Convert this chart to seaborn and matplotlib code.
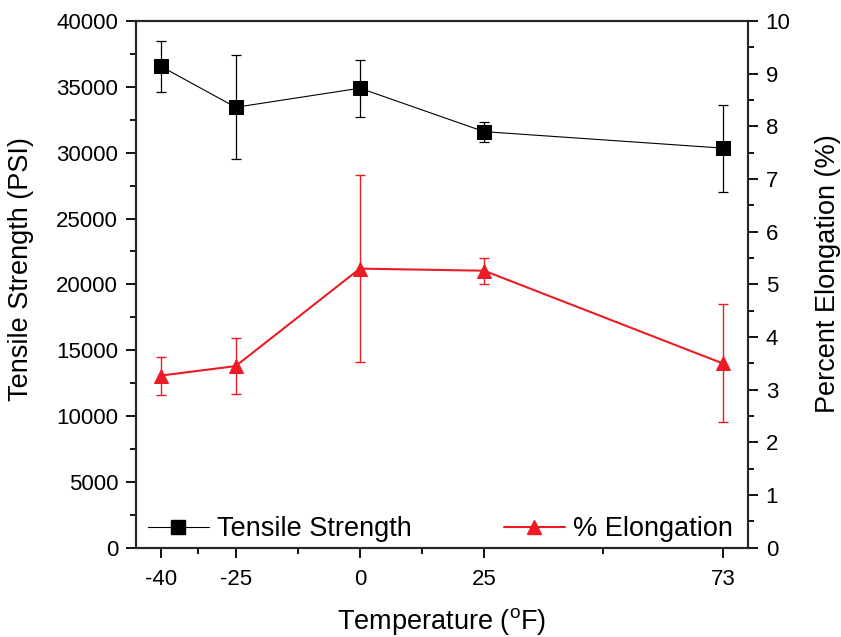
import matplotlib
matplotlib.use("Agg")
import matplotlib.pyplot as plt
import seaborn as sns
import pandas as pd
from matplotlib.ticker import MultipleLocator, FixedLocator
from matplotlib.lines import Line2D

# data
temps = [-40, -25, 0, 25, 73]
tensile = [36550, 33450, 34900, 31600, 30350]
tensile_err = [1950, 3950, 2150, 750, 3300]
elong = [3.27, 3.45, 5.30, 5.26, 3.50]
elong_err = [0.36, 0.53, 1.77, 0.25, 1.12]
x_minor = [-32.5, -12.5, 12.5, 49]

red = "#ED1C24"

sns.set_style("ticks")
plt.rcParams["font.family"] = ["Liberation Sans", "DejaVu Sans"]
plt.rcParams["axes.linewidth"] = 1.5
plt.rcParams["text.color"] = "black"
plt.rcParams["axes.labelcolor"] = "black"
plt.rcParams["xtick.color"] = "black"
plt.rcParams["ytick.color"] = "black"

df = pd.DataFrame({"Temp": temps, "Tensile": tensile, "Elong": elong})

fig, ax = plt.subplots(figsize=(8.41, 6.37), dpi=100)
fig.subplots_adjust(left=0.162, right=0.889, top=0.967, bottom=0.14)
ax2 = ax.twinx()

#Tensile strength on left axis
ax.errorbar(temps, tensile, yerr=tensile_err, fmt="none", ecolor="black", elinewidth=0.9, capsize=3.7, capthick=0.9, zorder=2)
sns.lineplot(data=df, x="Temp", y="Tensile", ax=ax, color="black", linewidth=0.8, marker="s", markersize=9.5, markeredgecolor="black", zorder=3)

#Elongation on right axis
ax2.errorbar(temps, elong, yerr=elong_err, fmt="none", ecolor=red, elinewidth=1.0, capsize=3.9, capthick=1.0, zorder=2)
sns.lineplot(data=df, x="Temp", y="Elong", ax=ax2, color=red, linewidth=1.5, marker="^", markersize=10, markeredgecolor=red, zorder=3)

ax.set_xlim(-45, 78)
ax.set_ylim(0, 40000)
ax2.set_ylim(0, 10)

ax.xaxis.set_major_locator(FixedLocator(temps))
ax.xaxis.set_minor_locator(FixedLocator(x_minor))
ax.set_xticklabels([str(t) for t in temps])
ax.yaxis.set_major_locator(MultipleLocator(5000))
ax.yaxis.set_minor_locator(MultipleLocator(2500))
ax2.yaxis.set_major_locator(MultipleLocator(1))
ax2.yaxis.set_minor_locator(MultipleLocator(0.5))

for a in (ax, ax2):
    a.tick_params(which="major", direction="out", length=7, width=1.3, labelsize=16, pad=6)
    a.tick_params(which="minor", direction="out", length=4, width=1.3)
    for s in a.spines.values():
        s.set_visible(True)
        s.set_linewidth(1.5)
ax.tick_params(axis="x", pad=8)

ax.set_xlabel(r"Temperature ($^\mathregular{o}$F)", fontsize=19.5, labelpad=12)
ax.set_ylabel("Tensile Strength (PSI)", fontsize=19.5)
ax2.set_ylabel("Percent Elongation (%)", fontsize=19.5)
#label anchors: outer edges of the rotated labels as in the reference
ax.yaxis.set_label_coords(-0.168, 0.53)
ax2.yaxis.set_label_coords(1.11, 0.52)

handles = [
    Line2D([], [], color="black", linewidth=0.8, marker="s", markersize=9.5),
    Line2D([], [], color=red, linewidth=1.5, marker="^", markersize=10),
]
ax2.legend(handles, ["Tensile Strength", "% Elongation"], loc="center left", bbox_to_anchor=(-0.021, 0.035),
           ncol=2, frameon=False, fontsize=19.5, handlelength=2.25, handletextpad=0.3, columnspacing=3.4)

fig.savefig("out.png", dpi=100)
